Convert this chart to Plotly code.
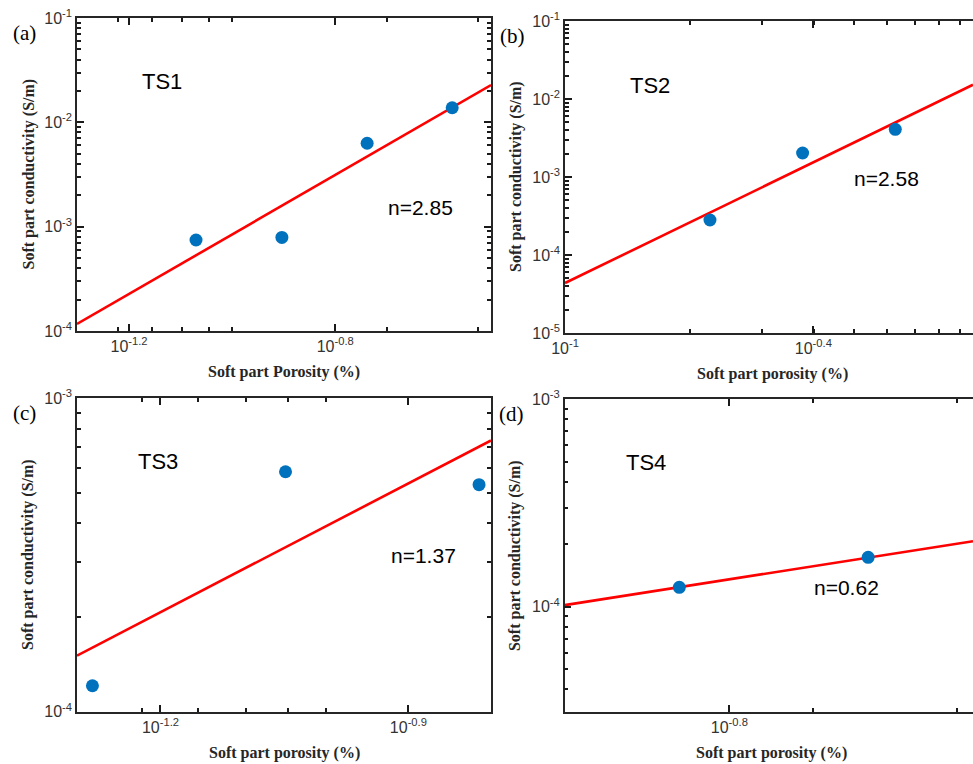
import numpy as np
import plotly.graph_objects as go

# ---------------- data ----------------
panel_names = ["TS1", "TS2", "TS3", "TS4"]
panel_tags = ["(a)", "(b)", "(c)", "(d)"]
x_titles = ["Soft part Porosity (%)", "Soft part porosity (%)",
            "Soft part porosity (%)", "Soft part porosity (%)"]
y_title = "Soft part conductivity (S/m)"

# porosity (fraction) and conductivity (S/m)
ts1_phi = [0.0851, 0.1249, 0.1828, 0.2673]
ts1_sig = [7.45e-4, 7.89e-4, 6.30e-3, 1.38e-2]
ts2_phi = [0.2240, 0.3750, 0.6280]
ts2_sig = [2.81e-4, 2.03e-3, 4.09e-3]
ts3_phi = [0.0522, 0.0894, 0.1533]
ts3_sig = [1.21e-4, 5.83e-4, 5.30e-4]
ts4_phi = [0.1378, 0.2337]
ts4_sig = [1.24e-4, 1.73e-4]

# power-law fits: sigma = A * phi^n
fit_n = [2.85, 2.58, 1.37, 0.62]
fit_A = [0.596, 0.0166, 0.00915, 4.246e-4]
n_labels = ["n=2.85", "n=2.58", "n=1.37", "n=0.62"]

# axis tick labels (exponents)
xtick_exp = [["-1.2", "-0.8"], ["-1", "-0.4"], ["-1.2", "-0.9"], ["-0.8"]]
ytick_exp = [["-4", "-3", "-2", "-1"], ["-5", "-4", "-3", "-2", "-1"], ["-4", "-3"], ["-4", "-3"]]
minor_digits = [1, 2, 3, 4, 5, 6, 7, 8, 9]


def pow_label(e):
    return "10<sup>" + e + "</sup>"


def minor_vals(rng):
    lo, hi = rng
    vals = []
    for k in range(int(np.floor(lo)) - 1, int(np.ceil(hi)) + 1):
        for d in minor_digits:
            v = d * 10.0 ** k
            if lo + 1e-3 <= np.log10(v) <= hi - 1e-3:
                vals.append(v)
    return vals


phis = [ts1_phi, ts2_phi, ts3_phi, ts4_phi]
sigs = [ts1_sig, ts2_sig, ts3_sig, ts4_sig]

# ---------------- layout geometry ----------------
W, H = 973, 764
x_ranges = [[-1.301, -0.4977], [-1.0, -0.0143], [-1.301, -0.8], [-1.0, -0.504]]
y_ranges = [[-4, -1], [-5, -1], [-4, -3], [-4.505, -3]]
# frame pixel boxes: left, right, top, bottom
boxes = [(77, 491, 18, 331), (565, 973, 21, 333), (77, 491, 398.3, 711.7), (564.7, 973, 399, 711.7)]
# text positions in log coordinates
name_pos = [(-1.137, -1.611), (-0.795, -1.821), (-1.2025, -3.202), (-0.9014, -3.307)]
n_pos = [(-0.634, -2.815), (-0.223, -3.017), (-0.8816, -3.502), (-0.658, -3.909)]

AX = "#262626"
fig = go.Figure()
annotations = []

for i in range(4):
    xa = "x" if i == 0 else f"x{i+1}"
    ya = "y" if i == 0 else f"y{i+1}"
    x0, x1 = 10 ** x_ranges[i][0], 10 ** x_ranges[i][1]
    lx = [x0, x1]
    ly = [fit_A[i] * v ** fit_n[i] for v in lx]
    fig.add_trace(go.Scatter(x=lx, y=ly, mode="lines", line=dict(color="#FF0000", width=2.6),
                             xaxis=xa, yaxis=ya, showlegend=False, hoverinfo="skip"))
    fig.add_trace(go.Scatter(x=phis[i], y=sigs[i], mode="markers",
                             marker=dict(color="#0072BD", size=13),
                             xaxis=xa, yaxis=ya, showlegend=False))

    L, R, T, B = boxes[i]
    right_panel = i in (1, 3)
    xkey = "xaxis" if i == 0 else f"xaxis{i+1}"
    ykey = "yaxis" if i == 0 else f"yaxis{i+1}"
    fig.update_layout(**{
        xkey: dict(type="log", range=x_ranges[i], domain=[L / W, R / W], anchor=ya, automargin=False,
                   showgrid=False, zeroline=False, showline=True, linecolor=AX, linewidth=1.5,
                   mirror="allticks", ticks="inside", ticklen=7, tickcolor="#1a1a1a", tickwidth=1.5,
                   tickmode="array", tickvals=[10 ** float(e) for e in xtick_exp[i]],
                   ticktext=[pow_label(e) for e in xtick_exp[i]],
                   tickfont=dict(family="Liberation Sans", size=16, color="#333333"),
                   minor=dict(ticks="inside", ticklen=4, tickcolor="#1a1a1a", tickwidth=1.5, showgrid=False,
                              tickmode="array", tickvals=minor_vals(x_ranges[i]))),
        ykey: dict(type="log", range=y_ranges[i], domain=[1 - B / H, 1 - T / H], anchor=xa, automargin=False,
                   showgrid=False, zeroline=False, showline=True, linecolor=AX, linewidth=1.5,
                   mirror=(False if right_panel else "allticks"), ticks="inside", ticklen=7,
                   tickcolor="#1a1a1a", tickwidth=1.5,
                   tickmode="array", tickvals=[10 ** float(e) for e in ytick_exp[i]],
                   ticktext=[pow_label(e) for e in ytick_exp[i]],
                   tickfont=dict(family="Liberation Sans", size=16, color="#333333"),
                   minor=dict(ticks="inside", ticklen=4, tickcolor="#1a1a1a", tickwidth=1.5, showgrid=False,
                              tickmode="array", tickvals=minor_vals(y_ranges[i]))),
    })

    # name label and exponent label
    annotations.append(dict(x=name_pos[i][0], y=name_pos[i][1], xref=xa, yref=ya, text=panel_names[i],
                            showarrow=False, font=dict(family="Liberation Sans", size=22, color="#000")))
    annotations.append(dict(x=n_pos[i][0], y=n_pos[i][1], xref=xa, yref=ya, text=n_labels[i],
                            showarrow=False, font=dict(family="Liberation Sans", size=21, color="#000")))
    # axis titles
    cx = (L + (979 if right_panel else R)) / 2
    annotations.append(dict(x=cx / W, y=1 - (B + 41) / H, xref="paper", yref="paper", text=x_titles[i],
                            showarrow=False, xanchor="center", yanchor="middle",
                            font=dict(family="Liberation Serif", size=16, color="#262626", weight="bold")))
    annotations.append(dict(x=(L - 49) / W, y=1 - ((T + B) / 2) / H, xref="paper", yref="paper",
                            text=y_title, textangle=-90, showarrow=False, xanchor="center", yanchor="middle",
                            font=dict(family="Liberation Serif", size=16, color="#262626", weight="bold")))
    # panel tag
    annotations.append(dict(x=(L - 53) / W, y=1 - (T + 15) / H, xref="paper", yref="paper", text=panel_tags[i],
                            showarrow=False, xanchor="center", yanchor="middle",
                            font=dict(family="Liberation Serif", size=21, color="#000")))

fig.update_layout(width=W, height=H, margin=dict(l=0, r=0, t=0, b=0), template="none",
                  paper_bgcolor="white", plot_bgcolor="white", annotations=annotations)

fig.write_html("out.html")
